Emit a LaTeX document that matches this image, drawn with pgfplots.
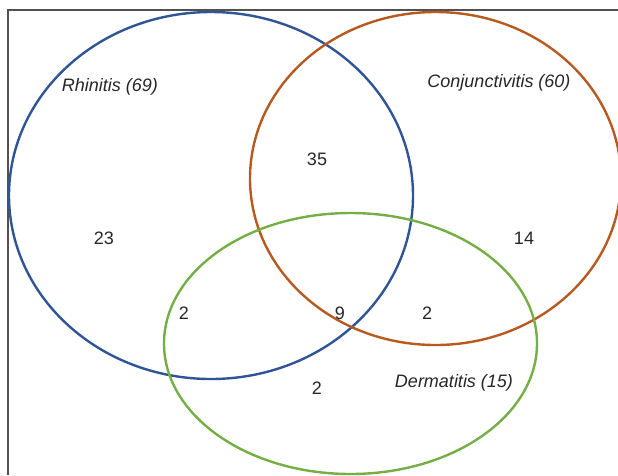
\documentclass[border=0pt]{standalone}
\usepackage{pgfplots}
\pgfplotsset{compat=1.18}
\usepackage{fontspec}
\setmainfont{Liberation Sans}
\definecolor{rhin}{HTML}{2F5597}
\definecolor{conj}{HTML}{B65A1F}
\definecolor{derm}{HTML}{74AF45}
\definecolor{txt}{HTML}{262626}
\tikzset{lbl/.style={font=\fontsize{18}{21}\selectfont, text=txt, inner sep=0pt}}

\begin{document}
\begin{tikzpicture}
\useasboundingbox (0,0) rectangle (618pt,475pt);
\begin{axis}[
    at={(0,0)}, anchor=south west,
    width=618pt, height=475pt, scale only axis,
    xmin=0, xmax=618, ymin=0, ymax=475,
    y dir=reverse,
    hide axis,
]
% frame
\addplot[draw=txt!80, line width=1.2pt] coordinates {(8,475) (8,10) (618,10)};
% sets
\draw[rhin, line width=2.4pt] (axis cs:211,195.5) ellipse [x radius=202, y radius=183.5];
\draw[conj, line width=2.4pt] (axis cs:435.5,178.5) ellipse [x radius=185.5, y radius=166.5];
\draw[derm, line width=2.4pt] (axis cs:350.5,343.5) ellipse [x radius=186.5, y radius=130.5];
% set names
\node[lbl] at (axis cs:110,87) {\itshape Rhinitis (69)};
\node[lbl] at (axis cs:499,83) {\itshape Conjunctivitis (60)};
\node[lbl] at (axis cs:454,383) {\itshape Dermatitis (15)};
% counts
\node[lbl] at (axis cs:317,159) {35};
\node[lbl] at (axis cs:104,238) {23};
\node[lbl] at (axis cs:524,238) {14};
\node[lbl] at (axis cs:184,313) {2};
\node[lbl] at (axis cs:340,313) {9};
\node[lbl] at (axis cs:427,313) {2};
\node[lbl] at (axis cs:317,388) {2};
\end{axis}
\end{tikzpicture}
\end{document}
